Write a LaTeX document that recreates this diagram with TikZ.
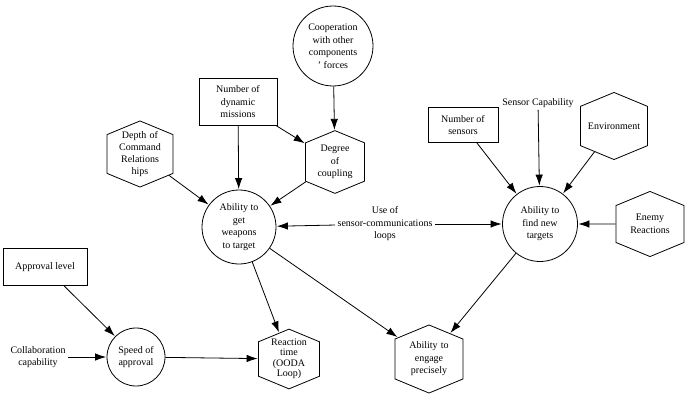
\documentclass[tikz,border=0pt]{standalone}
\usepackage{fontspec}
\setmainfont{Liberation Serif}
\usepackage{tikz}
\usetikzlibrary{arrows.meta,shapes.symbols}

\begin{document}
\begin{tikzpicture}[->,>={Latex[length=11pt,width=7.5pt]},shorten >=0.5pt,
                    x=1pt,y=1pt,line width=0.8pt,
                    font=\fontsize{10}{12.5}\selectfont]
  \tikzstyle{circ}=[circle,draw,align=center,inner sep=0pt]
  \tikzstyle{hexa}=[signal,signal to=north and south,signal from=nowhere,
                    signal pointer angle=135,draw,align=center,
                    inner xsep=1pt,text width=64pt]
  \tikzstyle{boxed}=[rectangle,draw,align=center]
  \tikzstyle{plain}=[align=center,inner sep=2pt]

  \useasboundingbox (0,0) rectangle (685,408);

  % top left group
  \node[circ,minimum size=80pt]           (coop)     at (333,362) {Cooperation\\with other\\components\\' forces};
  \node[hexa,text width=57pt,inner ysep=2.3pt] (degree) at (335,246) {Degree\\of\\coupling};
  \node[boxed,minimum width=78pt,minimum height=47pt] (missions) at (238,306) {Number of\\dynamic\\missions};
  \node[hexa,inner ysep=-3.2pt,font=\fontsize{10}{12}\selectfont] (depth) at (140,254) {Depth of\\Command\\Relations\\hips};
  \node[circ,minimum size=74pt]           (weapons)  at (239,181) {Ability to\\get\\weapons\\to target};

  % top right group
  \node[boxed,minimum width=70pt,minimum height=35pt] (sensors) at (463,283) {Number of\\sensors};
  \node[plain]                            (capab)    at (538,305) {Sensor Capability};
  \node[hexa,text width=65pt,inner ysep=16.3pt] (environ) at (614,282) {Environment};
  \node[hexa,text width=66pt,inner ysep=8.9pt] (enemy) at (650,184) {Enemy\\Reactions};
  \node[circ,minimum size=75pt]           (find)     at (540,184) {Ability to\\find new\\targets};
  \node[plain]                            (loops)    at (385,184) {Use of\\sensor-communications\\loops};

  % bottom
  \node[boxed,minimum width=84pt,minimum height=37pt] (approval) at (45,141) {Approval level};
  \node[plain]                            (collab)   at (38,51)   {Collaboration\\capability};
  \node[circ,minimum size=58pt]           (speed)    at (136,51)  {Speed of\\approval};
  \node[hexa,text width=59pt,inner ysep=-2.9pt,
        font=\fontsize{10}{10.5}\selectfont] (reaction) at (289,49) {Reaction\\time\\(OODA\\Loop)};
  \node[hexa,text width=66pt,inner ysep=2.9pt] (engage) at (429,49) {Ability to\\engage\\precisely};

  \path (coop)     edge (degree);
  \path (missions) edge (degree);
  \path (missions) edge (weapons);
  \path (depth)    edge (weapons);
  \path (degree)   edge (weapons);
  \path (loops)    edge (weapons);
  \path (loops)    edge (find);
  \path (sensors)  edge (find);
  \path (capab)    edge (find);
  \path (environ)  edge (find);
  \path (enemy)    edge (find);
  \path (weapons)  edge (reaction);
  \path (weapons)  edge (engage);
  \path (find)     edge (engage);
  \path (approval) edge (speed);
  \path (collab)   edge (speed);
  \path (speed)    edge (reaction);

\end{tikzpicture}
\end{document}
